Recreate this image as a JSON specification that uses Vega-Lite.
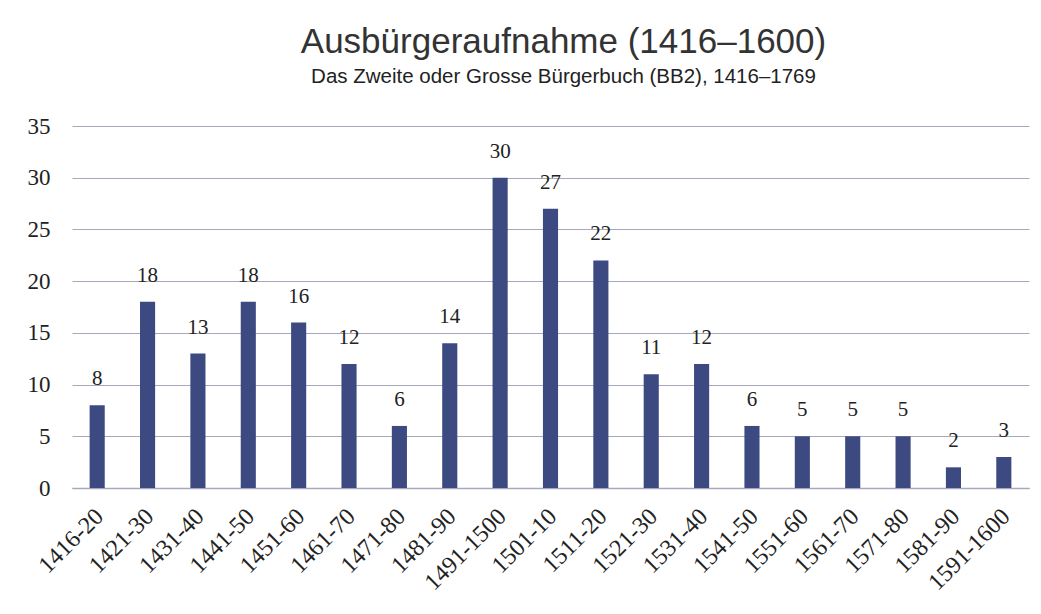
{
  "$schema": "https://vega.github.io/schema/vega-lite/v6.json",
  "width": 957,
  "height": 362,
  "autosize": "none",
  "padding": {"left": 72, "top": 126, "right": 12, "bottom": 126},
  "background": "white",
  "title": {
    "text": "Ausbürgeraufnahme (1416–1600)",
    "subtitle": "Das Zweite oder Grosse Bürgerbuch (BB2), 1416–1769",
    "anchor": "middle",
    "dx": 13,
    "font": "Liberation Sans",
    "fontSize": 35,
    "fontWeight": "normal",
    "color": "#333333",
    "subtitleFont": "Liberation Sans",
    "subtitleFontSize": 20.5,
    "subtitleColor": "#222222",
    "subtitlePadding": 7,
    "offset": 28
  },
  "data": {
    "values": [
      {"period": "1416-20", "count": 8},
      {"period": "1421-30", "count": 18},
      {"period": "1431-40", "count": 13},
      {"period": "1441-50", "count": 18},
      {"period": "1451-60", "count": 16},
      {"period": "1461-70", "count": 12},
      {"period": "1471-80", "count": 6},
      {"period": "1481-90", "count": 14},
      {"period": "1491-1500", "count": 30},
      {"period": "1501-10", "count": 27},
      {"period": "1511-20", "count": 22},
      {"period": "1521-30", "count": 11},
      {"period": "1531-40", "count": 12},
      {"period": "1541-50", "count": 6},
      {"period": "1551-60", "count": 5},
      {"period": "1561-70", "count": 5},
      {"period": "1571-80", "count": 5},
      {"period": "1581-90", "count": 2},
      {"period": "1591-1600", "count": 3}
    ]
  },
  "encoding": {
    "x": {
      "field": "period",
      "type": "nominal",
      "sort": null,
      "scale": {"paddingInner": 0.7, "paddingOuter": 0.35},
      "axis": {
        "title": null,
        "labelAngle": -45,
        "labelFont": "Liberation Serif",
        "labelFontSize": 24,
        "labelColor": "#222222",
        "labelPadding": 16,
        "labelOffset": -6,
        "ticks": false,
        "domain": true,
        "domainColor": "#a8a8bc",
        "domainWidth": 1.5
      }
    },
    "y": {
      "field": "count",
      "type": "quantitative",
      "scale": {"domain": [0, 35]},
      "axis": {
        "title": null,
        "values": [0, 5, 10, 15, 20, 25, 30, 35],
        "labelFont": "Liberation Serif",
        "labelFontSize": 23,
        "labelColor": "#222222",
        "labelPadding": 22,
        "ticks": false,
        "domain": false,
        "gridColor": "#a8a8bc",
        "gridWidth": 1.2
      }
    }
  },
  "layer": [
    {"mark": {"type": "bar", "color": "#3d4a82"}},
    {
      "mark": {
        "type": "text",
        "dy": -26,
        "font": "Liberation Serif",
        "fontSize": 21,
        "color": "#222222"
      },
      "encoding": {"text": {"field": "count", "type": "quantitative"}}
    }
  ],
  "config": {"view": {"stroke": null}}
}
